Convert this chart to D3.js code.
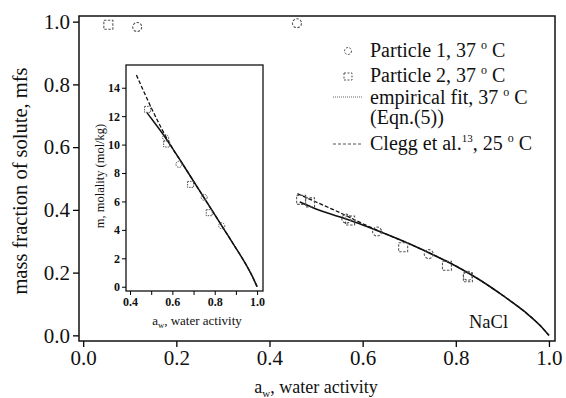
<!DOCTYPE html>
<html>
<head>
<meta charset="utf-8">
<script src="https://cdn.jsdelivr.net/npm/d3@7"></script>
<style>
  body { margin: 0; background: #fff; }
  svg { display: block; }
  text { font-family: "Liberation Serif", "Times New Roman", serif; fill: #111; }
</style>
</head>
<body>
<svg id="chart" width="566" height="398"></svg>
<script>
// ---- data ----
// main panel: mass fraction of solute vs water activity
const p1Aw  = [0.116, 0.459, 0.565, 0.631, 0.742, 0.826];
const p1Mfs = [0.983, 0.995, 0.372, 0.331, 0.259, 0.190];
const p2Aw  = [0.054, 0.468, 0.487, 0.573, 0.687, 0.781, 0.826];
const p2Mfs = [0.990, 0.432, 0.424, 0.366, 0.281, 0.222, 0.185];

const fitAw  = [0.465, 0.5, 0.55, 0.6, 0.65, 0.7, 0.75, 0.8, 0.85, 0.9, 0.95, 0.98, 1.0];
const fitMfs = [0.425, 0.403, 0.378, 0.352, 0.323, 0.292, 0.258, 0.221, 0.178, 0.128, 0.073, 0.033, 0.0];
const cleggAw  = [0.46, 0.5, 0.55, 0.6, 0.65, 0.7, 0.75, 0.8, 0.85, 0.9, 0.95, 0.98, 1.0];
const cleggMfs = [0.452, 0.425, 0.392, 0.356, 0.323, 0.292, 0.258, 0.221, 0.178, 0.128, 0.073, 0.033, 0.0];

// inset: molality vs water activity
const in1Aw = [0.568, 0.631, 0.750, 0.833];
const in1M  = [10.49, 8.61, 6.29, 4.29];
const in2Aw = [0.483, 0.573, 0.686, 0.774];
const in2M  = [12.48, 10.04, 7.20, 5.21];
const inFitAw = [0.48, 0.5, 0.55, 0.6, 0.65, 0.7, 0.75, 0.8, 0.85, 0.9, 0.95, 0.98, 1.0];
const inFitM  = [12.25, 11.85, 10.85, 9.75, 8.6, 7.42, 6.25, 5.08, 3.9, 2.72, 1.5, 0.66, 0.0];
const inCleggAw = [0.43, 0.46, 0.5, 0.55, 0.6, 0.65, 0.7, 0.75, 0.8, 0.85, 0.9, 0.95, 0.98, 1.0];
const inCleggM  = [14.9, 13.9, 12.6, 11.1, 9.75, 8.6, 7.42, 6.25, 5.08, 3.9, 2.72, 1.5, 0.66, 0.0];

const xTicks = [0, 0.2, 0.4, 0.6, 0.8, 1.0];
const yTicks = [0, 0.2, 0.4, 0.6, 0.8, 1.0];
const inXTicks = [0.4, 0.5, 0.6, 0.7, 0.8, 0.9, 1.0];
const inXLabels = [0.4, 0.6, 0.8, 1.0];
const inYTicks = [0, 2, 4, 6, 8, 10, 12, 14];

const zip = (a, b) => a.map((v, i) => [v, b[i]]);

const svg = d3.select('#chart');

// ---- main panel ----
const x = d3.scaleLinear().domain([-0.009, 1.013]).range([79, 555]);
const y = d3.scaleLinear().domain([-0.018, 1.018]).range([341, 16]);

const main = svg.append('g');

main.append('g')
    .attr('transform', `translate(0,${y.range()[0]})`)
    .call(d3.axisBottom(x).tickValues(xTicks).tickFormat(d3.format('.1f'))
        .tickSize(6).tickSizeOuter(0).tickPadding(3))
    .call(g => g.select('.domain').remove())
    .call(g => g.selectAll('line').attr('stroke-width', 1.3))
    .call(g => g.selectAll('text').attr('font-size', 21).attr('fill', '#111'));

main.append('g')
    .attr('transform', `translate(${x.range()[0]},0)`)
    .call(d3.axisLeft(y).tickValues(yTicks).tickFormat(d3.format('.1f'))
        .tickSize(6).tickSizeOuter(0).tickPadding(3))
    .call(g => g.select('.domain').remove())
    .call(g => g.selectAll('line').attr('stroke-width', 1.3))
    .call(g => g.selectAll('text').attr('font-size', 21).attr('fill', '#111'));

main.append('rect')
    .attr('x', x.range()[0]).attr('y', y.range()[1])
    .attr('width', x.range()[1] - x.range()[0])
    .attr('height', y.range()[0] - y.range()[1])
    .attr('fill', 'none').attr('stroke', '#111').attr('stroke-width', 1.5);

const line = d3.line().x(d => x(d[0])).y(d => y(d[1])).curve(d3.curveMonotoneX);

main.append('path').datum(zip(cleggAw, cleggMfs))
    .attr('d', line).attr('fill', 'none').attr('stroke', '#111')
    .attr('stroke-width', 1.3).attr('stroke-dasharray', '4,2');
main.append('path').datum(zip(fitAw, fitMfs))
    .attr('d', line).attr('fill', 'none').attr('stroke', '#111').attr('stroke-width', 1.6);

main.selectAll('circle.p1').data(zip(p1Aw, p1Mfs)).join('circle')
    .attr('class', 'p1')
    .attr('cx', d => x(d[0])).attr('cy', d => y(d[1])).attr('r', 4.5)
    .attr('fill', 'none').attr('stroke', '#555').attr('stroke-width', 1.1)
    .attr('stroke-dasharray', '2.5,1.5');
main.selectAll('rect.p2').data(zip(p2Aw, p2Mfs)).join('rect')
    .attr('class', 'p2')
    .attr('x', d => x(d[0]) - 4.5).attr('y', d => y(d[1]) - 4.5)
    .attr('width', 9).attr('height', 9)
    .attr('fill', 'none').attr('stroke', '#555').attr('stroke-width', 1.1)
    .attr('stroke-dasharray', '2.5,1.5');

// axis titles
svg.append('text')
    .attr('transform', 'translate(27,181) rotate(-90)')
    .attr('text-anchor', 'middle').attr('font-size', 20.5)
    .text('mass fraction of solute, mfs');

const xt = svg.append('text')
    .attr('x', 316).attr('y', 393).attr('text-anchor', 'middle').attr('font-size', 18);
xt.append('tspan').text('a');
xt.append('tspan').attr('font-size', 11).attr('dy', 4).text('w');
xt.append('tspan').attr('dy', -4).text(', water activity');

svg.append('text').attr('x', 469).attr('y', 328).attr('font-size', 18.5).text('NaCl');

// ---- legend ----
const legend = svg.append('g');
const lx = 370;
legend.append('circle').attr('cx', 348).attr('cy', 51).attr('r', 3.5)
    .attr('fill', 'none').attr('stroke', '#555').attr('stroke-dasharray', '2,1.5');
legend.append('rect').attr('x', 344).attr('y', 73).attr('width', 8).attr('height', 7)
    .attr('fill', 'none').attr('stroke', '#555').attr('stroke-dasharray', '2,1.5');
legend.append('line').attr('x1', 333).attr('x2', 363).attr('y1', 97).attr('y2', 97)
    .attr('stroke', '#666').attr('stroke-width', 1).attr('stroke-dasharray', '1,1');
legend.append('line').attr('x1', 333).attr('x2', 363).attr('y1', 144).attr('y2', 144)
    .attr('stroke', '#555').attr('stroke-width', 1).attr('stroke-dasharray', '3,2');

function degText(g, ty, pre) {
    const t = g.append('text').attr('x', lx).attr('y', ty).attr('font-size', 20);
    t.append('tspan').text(pre);
    t.append('tspan').attr('font-size', 12).attr('dy', -8).text('o');
    t.append('tspan').attr('dy', 8).text(' C');
    return t;
}
degText(legend, 57, 'Particle 1, 37 ');
degText(legend, 82, 'Particle 2, 37 ');
degText(legend, 104, 'empirical fit, 37 ');
legend.append('text').attr('x', lx).attr('y', 124).attr('font-size', 20).text('(Eqn.(5))');
const cl = legend.append('text').attr('x', lx).attr('y', 150).attr('font-size', 20);
cl.append('tspan').text('Clegg et al.');
cl.append('tspan').attr('font-size', 11).attr('dy', -8).text('13');
cl.append('tspan').attr('dy', 8).text(', 25 ');
cl.append('tspan').attr('font-size', 12).attr('dy', -8).text('o');
cl.append('tspan').attr('dy', 8).text(' C');

// ---- inset ----
const ix = d3.scaleLinear().domain([0.381, 1.028]).range([126, 263]);
const iy = d3.scaleLinear().domain([-0.3, 15.6]).range([291, 65]);
const inset = svg.append('g');

inset.append('g')
    .attr('transform', `translate(0,${iy.range()[0]})`)
    .call(d3.axisBottom(ix).tickValues(inXTicks)
        .tickFormat(d => inXLabels.some(v => Math.abs(v - d) < 1e-9) ? d3.format('.1f')(d) : '')
        .tickSize(4).tickSizeOuter(0).tickPadding(2))
    .call(g => g.select('.domain').remove())
    .call(g => g.selectAll('text').attr('font-size', 12).attr('font-weight', 'bold').attr('fill', '#111'));

inset.append('g')
    .attr('transform', `translate(${ix.range()[0]},0)`)
    .call(d3.axisLeft(iy).tickValues(inYTicks).tickSize(4).tickSizeOuter(0).tickPadding(2))
    .call(g => g.select('.domain').remove())
    .call(g => g.selectAll('text').attr('font-size', 12).attr('font-weight', 'bold').attr('fill', '#111'));

inset.append('rect')
    .attr('x', ix.range()[0]).attr('y', iy.range()[1])
    .attr('width', ix.range()[1] - ix.range()[0])
    .attr('height', iy.range()[0] - iy.range()[1])
    .attr('fill', '#fff').attr('stroke', '#111').attr('stroke-width', 1.3)
    .lower();

const iline = d3.line().x(d => ix(d[0])).y(d => iy(d[1])).curve(d3.curveMonotoneX);
inset.append('path').datum(zip(inCleggAw, inCleggM))
    .attr('d', iline).attr('fill', 'none').attr('stroke', '#111')
    .attr('stroke-width', 1.3).attr('stroke-dasharray', '4,2');
inset.append('path').datum(zip(inFitAw, inFitM))
    .attr('d', iline).attr('fill', 'none').attr('stroke', '#111').attr('stroke-width', 1.5);

inset.selectAll('circle.i1').data(zip(in1Aw, in1M)).join('circle')
    .attr('class', 'i1')
    .attr('cx', d => ix(d[0])).attr('cy', d => iy(d[1])).attr('r', 3)
    .attr('fill', 'none').attr('stroke', '#555').attr('stroke-dasharray', '1.5,1');
inset.selectAll('rect.i2').data(zip(in2Aw, in2M)).join('rect')
    .attr('class', 'i2')
    .attr('x', d => ix(d[0]) - 3).attr('y', d => iy(d[1]) - 3)
    .attr('width', 6).attr('height', 6)
    .attr('fill', 'none').attr('stroke', '#555').attr('stroke-dasharray', '1.5,1');

svg.append('text')
    .attr('transform', 'translate(104,176) rotate(-90)')
    .attr('text-anchor', 'middle').attr('font-size', 12.5)
    .text('m, molality (mol/kg)');

const ixt = svg.append('text')
    .attr('x', 197).attr('y', 325).attr('text-anchor', 'middle').attr('font-size', 13);
ixt.append('tspan').text('a');
ixt.append('tspan').attr('font-size', 8.5).attr('dy', 3).text('w');
ixt.append('tspan').attr('dy', -3).text(', water activity');
</script>
</body>
</html>
